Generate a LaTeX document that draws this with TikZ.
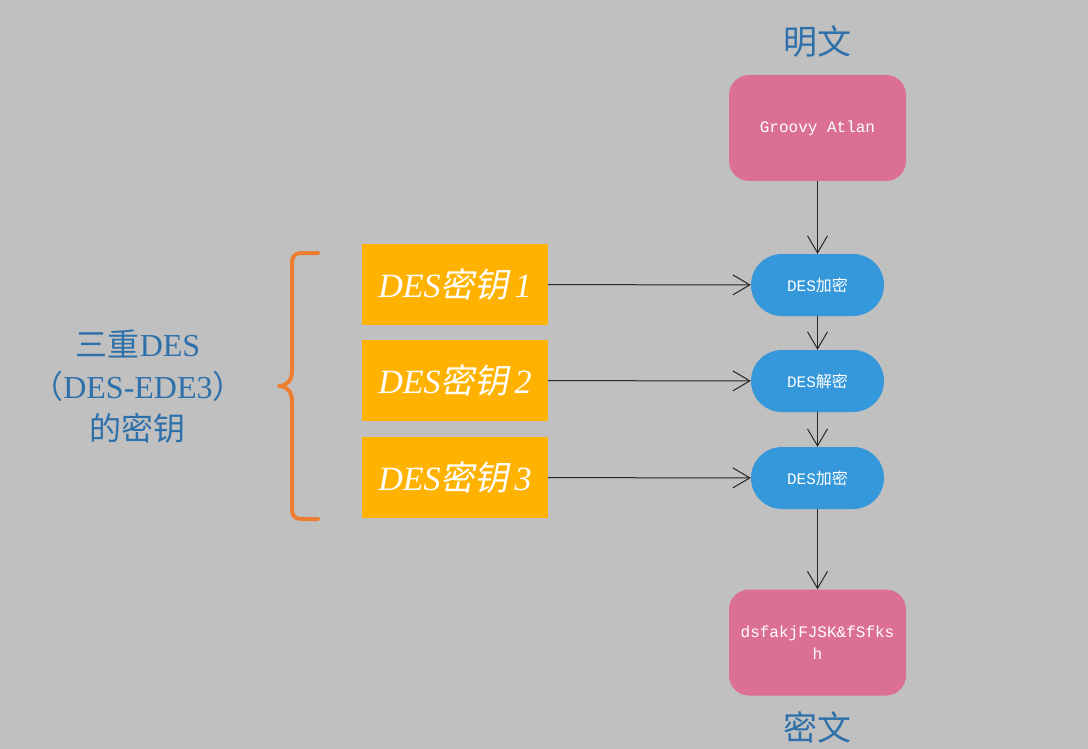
\documentclass[tikz,border=0pt]{standalone}
\usepackage{fontspec}
\setmainfont{Liberation Serif}
\setmonofont{Liberation Mono}
\newfontfamily\cjk{Noto Sans CJK SC}
\newfontfamily\cjkit[FakeSlant=0.2]{Noto Sans CJK SC}
\usetikzlibrary{arrows.meta}
\definecolor{bggray}{RGB}{192,192,192}
\definecolor{pinkbox}{RGB}{220,112,148}
\definecolor{bluepill}{RGB}{52,152,219}
\definecolor{keyorange}{RGB}{255,179,0}
\definecolor{braceorange}{RGB}{237,125,49}
\definecolor{labelblue}{RGB}{46,112,170}
\tikzset{flowarr/.style={draw=black!85, line width=1pt,
  -{Straight Barb[length=17pt,width=20pt]}},
  textbox/.style={fill=pinkbox, rounded corners=20pt, minimum width=177pt,
  minimum height=106pt, text=white, align=center, font=\ttfamily\fontsize{16}{22}\selectfont},
  despill/.style={fill=bluepill, rounded corners=31pt, minimum width=133pt,
  minimum height=62pt, text=white, font=\ttfamily\fontsize{16}{18}\selectfont},
  keybox/.style={fill=keyorange, minimum width=186pt, minimum height=81pt,
  text=white, font=\itshape\fontsize{34}{40}\selectfont},
  bluelabel/.style={text=labelblue, align=center}}

\begin{document}
\begin{tikzpicture}[x=1pt, y=-1pt]
  \fill[bggray] (0,0) rectangle (1088,749);
  \useasboundingbox (0,0) rectangle (1088,749);
  % plaintext and ciphertext boxes
  \node[textbox] (plain) at (817.5,128) {Groovy Atlan};
  \node[textbox] (cipher) at (817.5,642.5) {dsfakjFJSK\&fSfks\\h};
  \node[bluelabel, font=\cjk\fontsize{34}{40}\selectfont] (plainlbl) at (817,42) {明文};
  \node[bluelabel, font=\cjk\fontsize{34}{40}\selectfont] (cipherlbl) at (817,727) {密文};
  % the three DES stages
  \node[despill] (enc1) at (817.5,285) {DES{\cjk 加密}};
  \node[despill] (dec2) at (817.5,381) {DES{\cjk 解密}};
  \node[despill] (enc3) at (817.5,478) {DES{\cjk 加密}};
  % keys
  \node[keybox] (key1) at (455,284.5) {DES{\cjkit 密钥}\kern6pt 1};
  \node[keybox] (key2) at (455,380.5) {DES{\cjkit 密钥}\kern6pt 2};
  \node[keybox] (key3) at (455,477.5) {DES{\cjkit 密钥}\kern6pt 3};
  \draw[flowarr] (plain) -- (enc1);
  \draw[flowarr] (enc1) -- (dec2);
  \draw[flowarr] (dec2) -- (enc3);
  \draw[flowarr] (enc3) -- (cipher);
  \draw[flowarr] (key1) -- (enc1);
  \draw[flowarr] (key2) -- (dec2);
  \draw[flowarr] (key3) -- (enc3);
  % brace round the keys
  \draw[braceorange, line width=4pt, line cap=round, line join=round]
    (318,253) -- (302,253) .. controls (295,253) and (292,256) .. (292,263)
    -- (292,371) .. controls (292,380) and (287,386) .. (279,386)
    .. controls (287,386) and (292,392) .. (292,401) -- (292,509)
    .. controls (292,516) and (295,519) .. (302,519) -- (318,519);
  \node[bluelabel, font=\fontsize{32}{42}\selectfont] (keylbl) at (138,387)
    {{\cjk 三重}DES\\{\cjk （}DES-EDE3{\cjk ）}\\{\cjk 的密钥}};
\end{tikzpicture}
\end{document}
